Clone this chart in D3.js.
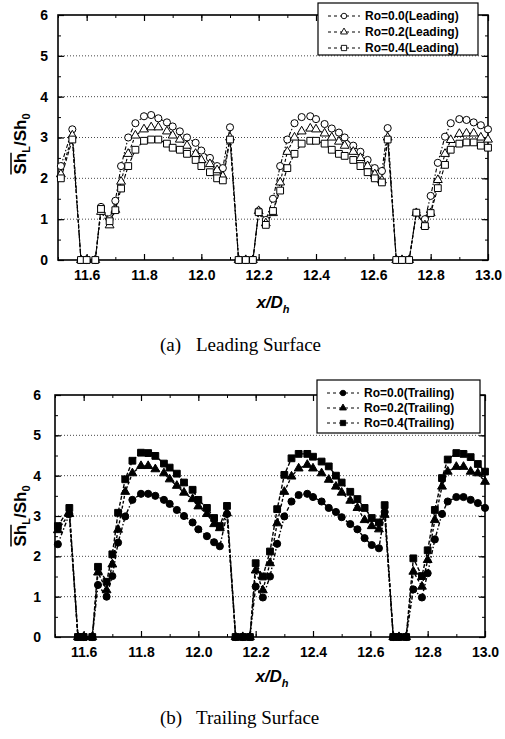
<!DOCTYPE html>
<html>
<head>
<meta charset="utf-8">
<script src="https://cdn.jsdelivr.net/npm/d3@7"></script>
<style>
  body { margin: 0; background: #fff; }
  svg { display: block; }
</style>
</head>
<body>
<div id="vis"></div>
<script>
// x/Dh positions of the measurement points (same for both surfaces)
var xPos = [11.51, 11.55, 11.58, 11.60, 11.63,
  11.65, 11.68, 11.70, 11.72, 11.745, 11.77, 11.80, 11.825, 11.85, 11.88, 11.90, 11.925, 11.95, 11.98, 12.00, 12.03, 12.055, 12.075, 12.10,
  12.13, 12.155, 12.18,
  12.20, 12.225, 12.25, 12.275, 12.30, 12.325, 12.35, 12.38, 12.40, 12.43, 12.455, 12.48, 12.50, 12.53, 12.555, 12.58, 12.605, 12.63, 12.65,
  12.68, 12.70, 12.725,
  12.75, 12.78, 12.80, 12.825, 12.85, 12.87, 12.90, 12.925, 12.95, 12.975, 13.0];

var leadRo00 = [2.3, 3.2, 0, 0, 0,
  1.3, 1.0, 1.45, 2.3, 3.0, 3.35, 3.52, 3.55, 3.47, 3.37, 3.27, 3.15, 3.0, 2.87, 2.68, 2.5, 2.3, 2.25, 3.25,
  0, 0, 0,
  1.2, 0.98, 1.5, 2.3, 2.95, 3.35, 3.5, 3.52, 3.45, 3.33, 3.22, 3.12, 3.0, 2.8, 2.65, 2.45, 2.25, 2.18, 3.23,
  0, 0, 0,
  1.16, 1.0, 1.57, 2.38, 3.02, 3.35, 3.45, 3.43, 3.37, 3.3, 3.2];
var leadRo02 = [2.1, 3.05, 0, 0, 0,
  1.18, 0.85, 1.23, 1.92, 2.6, 3.05, 3.2, 3.25, 3.25, 3.15, 3.05, 2.95, 2.8, 2.6, 2.45, 2.35, 2.2, 2.05, 3.0,
  0, 0, 0,
  1.2, 0.9, 1.15, 1.9, 2.65, 3.0, 3.15, 3.22, 3.2, 3.1, 3.0, 2.9, 2.8, 2.65, 2.5, 2.3, 2.1, 1.95, 3.0,
  0, 0, 0,
  1.15, 0.85, 1.15, 1.96, 2.6, 2.94, 3.09, 3.1, 3.1, 3.0, 2.95];
var leadRo04 = [2.0, 2.95, 0, 0, 0,
  1.25, 0.95, 1.22, 1.75, 2.3, 2.7, 2.92, 2.95, 2.95, 2.85, 2.75, 2.7, 2.6, 2.45, 2.3, 2.15, 2.0, 1.95, 2.95,
  0, 0, 0,
  1.17, 0.86, 1.2, 1.7, 2.25, 2.6, 2.85, 2.92, 2.92, 2.85, 2.7, 2.6, 2.55, 2.45, 2.3, 2.15, 2.0, 1.9, 2.95,
  0, 0, 0,
  1.16, 0.83, 1.15, 1.76, 2.33, 2.7, 2.85, 2.88, 2.88, 2.8, 2.75];

var trailRo00 = [2.3, 3.05, 0, 0, 0,
  1.29, 1.0, 1.51, 2.34, 2.99, 3.4, 3.55, 3.55, 3.5, 3.4, 3.3, 3.15, 3.0, 2.84, 2.67, 2.5, 2.35, 2.25, 3.05,
  0, 0, 0,
  1.25, 0.98, 1.5, 2.31, 2.99, 3.36, 3.52, 3.55, 3.47, 3.36, 3.2, 3.1, 2.97, 2.8, 2.67, 2.45, 2.28, 2.2, 3.1,
  0, 0, 0,
  1.18, 0.98, 1.58, 2.42, 3.05, 3.36, 3.47, 3.47, 3.4, 3.32, 3.2];
var trailRo02 = [2.65, 3.05, 0, 0, 0,
  1.6, 1.16, 1.8, 2.66, 3.6, 4.06, 4.24, 4.24, 4.16, 4.06, 3.91, 3.75, 3.58, 3.42, 3.24, 3.05, 2.8, 2.7, 3.07,
  0, 0, 0,
  1.65, 1.16, 1.83, 2.82, 3.6, 3.98, 4.18, 4.27, 4.18, 4.06, 3.9, 3.73, 3.58, 3.38, 3.2, 2.9, 2.75, 2.67, 3.03,
  0, 0, 0,
  1.62, 1.25, 1.91, 2.9, 3.73, 4.1, 4.22, 4.22, 4.1, 4.06, 3.85];
var trailRo04 = [2.75, 3.2, 0, 0, 0,
  1.74, 1.37, 2.05, 3.08, 3.91, 4.37, 4.57, 4.56, 4.49, 4.3, 4.2, 4.05, 3.83, 3.65, 3.4, 3.2, 2.95, 2.75, 3.25,
  0, 0, 0,
  1.83, 1.5, 2.12, 3.17, 4.02, 4.43, 4.54, 4.54, 4.47, 4.35, 4.23, 4.0, 3.83, 3.6, 3.42, 3.2, 2.95, 2.84, 3.27,
  0, 0, 0,
  1.95, 1.51, 2.15, 3.15, 3.94, 4.4, 4.56, 4.54, 4.46, 4.29, 4.1];

var xTicks = [11.6, 11.8, 12.0, 12.2, 12.4, 12.6, 12.8, 13.0];
var yTicks = [0, 1, 2, 3, 4, 5, 6];
var gridLines = [1, 2, 3, 4, 5];

var leadLabels = ['Ro=0.0(Leading)', 'Ro=0.2(Leading)', 'Ro=0.4(Leading)'];
var trailLabels = ['Ro=0.0(Trailing)', 'Ro=0.2(Trailing)', 'Ro=0.4(Trailing)'];

var width = 505;
var height = 739;

var svg = d3.select('#vis').append('svg')
  .attr('width', width)
  .attr('height', height);

var symbols = [d3.symbolCircle, d3.symbolTriangle, d3.symbolSquare];
var symSizes = [40, 34, 46];
var dashes = ['4,2,1.5,2', '3,2', '4,2'];

function drawChart(cfg) {
  var x = d3.scaleLinear().domain([11.5, 13.0]).range([cfg.left, cfg.right]);
  var y = d3.scaleLinear().domain([0, 6]).range([cfg.bottom, cfg.top]);
  var g = svg.append('g');

  // dotted grid
  g.selectAll('.grid').data(gridLines).enter().append('line')
    .attr('x1', cfg.left).attr('x2', cfg.right)
    .attr('y1', function (d) { return y(d); })
    .attr('y2', function (d) { return y(d); })
    .attr('stroke', '#333')
    .attr('stroke-width', 0.9)
    .attr('stroke-dasharray', '1,2');

  // inward ticks on all four sides
  var xMinor = d3.range(11.5, 13.001, 0.1);
  var yMinor = d3.range(0, 6.001, 0.5);
  var axB = d3.axisBottom(x).tickValues(xMinor).tickSizeInner(-3).tickSizeOuter(0).tickFormat('');
  var axT = d3.axisTop(x).tickValues(xMinor).tickSizeInner(-3).tickSizeOuter(0).tickFormat('');
  var axL = d3.axisLeft(y).tickValues(yMinor).tickSizeInner(-3).tickSizeOuter(0).tickFormat('');
  var axR = d3.axisRight(y).tickValues(yMinor).tickSizeInner(-3).tickSizeOuter(0).tickFormat('');
  [[axB, 'translate(0,' + cfg.bottom + ')'], [axT, 'translate(0,' + cfg.top + ')'],
   [axL, 'translate(' + cfg.left + ',0)'], [axR, 'translate(' + cfg.right + ',0)']].forEach(function (a) {
    var ga = g.append('g').attr('transform', a[1]).call(a[0]);
    ga.select('.domain').remove();
    ga.selectAll('line').attr('stroke', '#000').attr('stroke-width', 1);
  });
  var bigB = d3.axisBottom(x).tickValues(xTicks).tickSizeInner(-6).tickSizeOuter(0).tickPadding(10)
    .tickFormat(d3.format('.1f'));
  var bigT = d3.axisTop(x).tickValues(xTicks).tickSizeInner(-6).tickSizeOuter(0).tickFormat('');
  var bigL = d3.axisLeft(y).tickValues(yTicks).tickSizeInner(-6).tickSizeOuter(0).tickPadding(cfg.yPad)
    .tickFormat(d3.format('d'));
  var bigR = d3.axisRight(y).tickValues(yTicks).tickSizeInner(-6).tickSizeOuter(0).tickFormat('');
  [[bigB, 'translate(0,' + cfg.bottom + ')'], [bigT, 'translate(0,' + cfg.top + ')'],
   [bigL, 'translate(' + cfg.left + ',0)'], [bigR, 'translate(' + cfg.right + ',0)']].forEach(function (a) {
    var ga = g.append('g').attr('transform', a[1]).call(a[0]);
    ga.select('.domain').remove();
    ga.selectAll('line').attr('stroke', '#000').attr('stroke-width', 1.2);
    ga.selectAll('text')
      .attr('fill', '#000')
      .style('font-family', 'Liberation Sans, Arial, sans-serif')
      .style('font-weight', 'bold')
      .style('font-size', '14px');
  });

  // frame
  g.append('rect')
    .attr('x', cfg.left).attr('y', cfg.top)
    .attr('width', cfg.right - cfg.left).attr('height', cfg.bottom - cfg.top)
    .attr('fill', 'none').attr('stroke', '#000').attr('stroke-width', 1.6);

  var line = d3.line()
    .x(function (d) { return x(d[0]); })
    .y(function (d) { return y(d[1]); });

  cfg.series.forEach(function (vals, i) {
    var pts = xPos.map(function (xv, k) { return [xv, vals[k]]; });
    g.append('path')
      .datum(pts)
      .attr('d', line)
      .attr('fill', 'none')
      .attr('stroke', '#000')
      .attr('stroke-width', cfg.filled ? 1.4 : 1.1)
      .attr('stroke-dasharray', dashes[i]);
  });

  cfg.series.forEach(function (vals, i) {
    var pts = xPos.map(function (xv, k) { return [xv, vals[k]]; });
    g.selectAll('.pt' + i).data(pts).enter().append('path')
      .attr('transform', function (d) { return 'translate(' + x(d[0]) + ',' + y(d[1]) + ')'; })
      .attr('d', d3.symbol().type(symbols[i]).size(symSizes[i]))
      .attr('fill', cfg.filled ? '#000' : '#fff')
      .attr('stroke', '#000')
      .attr('stroke-width', 1);
  });

  // legend
  var lg = g.append('g');
  lg.append('rect')
    .attr('x', cfg.legX).attr('y', cfg.legY)
    .attr('width', cfg.legW).attr('height', cfg.legH)
    .attr('fill', '#fff').attr('stroke', '#000').attr('stroke-width', 1.2);
  cfg.labels.forEach(function (lab, i) {
    var ly = cfg.legY + 13 + i * cfg.legStep;
    lg.append('line')
      .attr('x1', cfg.legX + 10).attr('x2', cfg.legX + 42)
      .attr('y1', ly).attr('y2', ly)
      .attr('stroke', '#000').attr('stroke-width', 1)
      .attr('stroke-dasharray', '3,3');
    lg.append('path')
      .attr('transform', 'translate(' + (cfg.legX + 26) + ',' + ly + ')')
      .attr('d', d3.symbol().type(symbols[i]).size(symSizes[i] * 0.6))
      .attr('fill', cfg.filled ? '#000' : '#fff')
      .attr('stroke', '#000').attr('stroke-width', 0.9);
    lg.append('text')
      .attr('x', cfg.legX + 47).attr('y', ly + 4)
      .style('font-family', 'Liberation Sans, Arial, sans-serif')
      .style('font-weight', 'bold')
      .style('font-size', '12px')
      .text(lab);
  });

  // y title with overbar
  var yt = g.append('g').attr('transform', 'translate(' + cfg.yTitleX + ',' + cfg.yTitleY + ') rotate(-90)');
  var t = yt.append('text')
    .attr('text-anchor', 'middle')
    .style('font-family', 'Liberation Sans, Arial, sans-serif')
    .style('font-weight', 'bold')
    .style('font-size', '17px');
  t.append('tspan').text('Sh');
  t.append('tspan').attr('dy', 4).style('font-size', '11px').text('L');
  t.append('tspan').attr('dy', -4).text('/Sh');
  t.append('tspan').attr('dy', 4).style('font-size', '11px').text('0');
  var tn = t.node();
  var p0 = tn.getStartPositionOfChar(0);
  var len = tn.getSubStringLength(0, 2);
  yt.append('line')
    .attr('x1', p0.x).attr('x2', p0.x + len)
    .attr('y1', p0.y - 15).attr('y2', p0.y - 15)
    .attr('stroke', '#000').attr('stroke-width', 1.5);

  // x title
  var xt = g.append('text')
    .attr('x', cfg.xTitleX).attr('y', cfg.xTitleY)
    .attr('text-anchor', 'middle')
    .style('font-family', 'Liberation Sans, Arial, sans-serif')
    .style('font-weight', 'bold')
    .style('font-style', 'italic')
    .style('font-size', '17px');
  xt.append('tspan').text('x/D');
  xt.append('tspan').attr('dy', 5).style('font-size', '11px').text('h');

  // caption
  var cap = g.append('text')
    .attr('y', cfg.capY)
    .style('font-family', 'Liberation Serif, Times New Roman, serif')
    .style('font-size', '19px');
  cap.append('tspan').attr('x', 160).text(cfg.capTag);
  cap.append('tspan').attr('x', 196).text(cfg.capText);
}

drawChart({
  left: 58, right: 488, top: 15, bottom: 260, yPad: 10,
  series: [leadRo00, leadRo02, leadRo04], filled: false, labels: leadLabels,
  legX: 318, legY: 3, legW: 160, legH: 52, legStep: 16,
  yTitleX: 26, yTitleY: 144, xTitleX: 273, xTitleY: 308,
  capY: 351, capTag: '(a)', capText: 'Leading Surface'
});

drawChart({
  left: 55, right: 485, top: 395, bottom: 637, yPad: 14,
  series: [trailRo00, trailRo02, trailRo04], filled: true, labels: trailLabels,
  legX: 317, legY: 380, legW: 163, legH: 53, legStep: 15,
  yTitleX: 26, yTitleY: 516, xTitleX: 272, xTitleY: 682,
  capY: 724, capTag: '(b)', capText: 'Trailing Surface'
});
</script>
</body>
</html>
